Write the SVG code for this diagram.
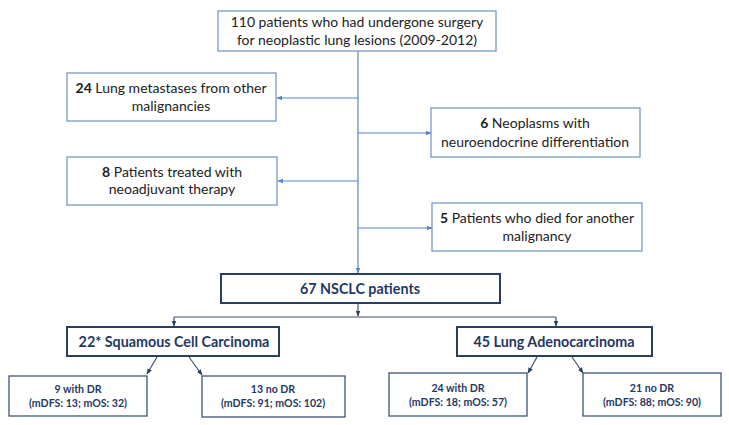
<svg xmlns="http://www.w3.org/2000/svg" width="729" height="425" viewBox="0 0 729 425">
<style>
.box{fill:#fff;stroke:#6e8fbf;stroke-width:1.2}
.bbox{fill:#fff;stroke:#2a3f5f;stroke-width:2}
.sbox{fill:#fff;stroke:#3d5475;stroke-width:1.3}
.t{font-family:Lato,"Liberation Sans",sans-serif;font-size:14px;fill:#222;text-anchor:middle}
.h{font-family:Lato,"Liberation Sans",sans-serif;font-size:14.3px;font-weight:bold;fill:#1f3864;text-anchor:middle}
.s{font-family:Lato,"Liberation Sans",sans-serif;font-size:10.6px;font-weight:bold;fill:#1f3864;text-anchor:middle}
.c{fill:none;stroke:#5b84c4;stroke-width:1.2}
.d{fill:none;stroke:#3d5475;stroke-width:1.2}
</style>
<defs>
<marker id="a" viewBox="0 0 10 10" refX="9" refY="5" markerWidth="5" markerHeight="5" orient="auto"><path d="M0,1 L10,5 L0,9 z" fill="#5b84c4"/></marker>
<marker id="b" viewBox="0 0 10 10" refX="9" refY="5" markerWidth="5" markerHeight="5" orient="auto"><path d="M0,1 L10,5 L0,9 z" fill="#2a3f5f"/></marker>
</defs>
<g id="connectors">
<path class="c" d="M358,51 V273" marker-end="url(#a)"/>
<path class="c" d="M358,98 H277" marker-end="url(#a)"/>
<path class="c" d="M358,133 H431" marker-end="url(#a)"/>
<path class="c" d="M358,181 H278" marker-end="url(#a)"/>
<path class="c" d="M358,228 H432" marker-end="url(#a)"/>
<path class="d" d="M358,303 V316" marker-end="url(#b)"/>
<path class="d" d="M174,317 H556"/>
<path class="d" d="M174,317 V326" marker-end="url(#b)"/>
<path class="d" d="M556,317 V326" marker-end="url(#b)"/>
<path class="d" d="M157,357 L147,374" marker-end="url(#b)"/>
<path class="d" d="M189,357 L202,375" marker-end="url(#b)"/>
<path class="d" d="M537,357 L528,373" marker-end="url(#b)"/>
<path class="d" d="M572,357 L583,373" marker-end="url(#b)"/>
</g>
<g id="n110">
<rect class="box" x="218" y="11" width="278" height="40"/>
<text class="t" x="357" y="27">110 patients who had undergone surgery</text>
<text class="t" x="357" y="45">for neoplastic lung lesions (2009-2012)</text>
</g>
<g id="n24">
<rect class="box" x="67" y="73" width="209" height="48"/>
<text class="t" x="171" y="93"><tspan font-weight="bold">24</tspan> Lung metastases from other</text>
<text class="t" x="171" y="111">malignancies</text>
</g>
<g id="n6">
<rect class="box" x="431" y="108" width="209" height="49"/>
<text class="t" x="535" y="128"><tspan font-weight="bold">6</tspan> Neoplasms with</text>
<text class="t" x="535" y="147">neuroendocrine differentiation</text>
</g>
<g id="n8">
<rect class="box" x="67" y="157" width="210" height="48"/>
<text class="t" x="172" y="177"><tspan font-weight="bold">8</tspan> Patients treated with</text>
<text class="t" x="172" y="194">neoadjuvant therapy</text>
</g>
<g id="n5">
<rect class="box" x="432" y="203" width="210" height="48"/>
<text class="t" x="537" y="223"><tspan font-weight="bold">5</tspan> Patients who died for another</text>
<text class="t" x="537" y="241">malignancy</text>
</g>
<g id="n67">
<rect class="bbox" x="221" y="274" width="279" height="29"/>
<text class="h" x="360" y="294">67 NSCLC patients</text>
</g>
<g id="n22">
<rect class="bbox" x="67" y="327" width="212" height="29"/>
<text class="h" x="174" y="347">22* Squamous Cell Carcinoma</text>
</g>
<g id="n45">
<rect class="bbox" x="457" y="327" width="195" height="29"/>
<text class="h" x="554" y="347">45 Lung Adenocarcinoma</text>
</g>
<g id="n9">
<rect class="sbox" x="9" y="376" width="138" height="40"/>
<text class="s" x="78" y="393">9 with DR</text>
<text class="s" x="78" y="407">(mDFS: 13; mOS: 32)</text>
</g>
<g id="n13">
<rect class="sbox" x="202" y="376" width="143" height="41"/>
<text class="s" x="273" y="393">13 no DR</text>
<text class="s" x="273" y="407">(mDFS: 91; mOS: 102)</text>
</g>
<g id="n24dr">
<rect class="sbox" x="389" y="373" width="138" height="43"/>
<text class="s" x="458" y="392">24 with DR</text>
<text class="s" x="458" y="406">(mDFS: 18; mOS: 57)</text>
</g>
<g id="n21">
<rect class="sbox" x="583" y="373" width="138" height="43"/>
<text class="s" x="652" y="392">21 no DR</text>
<text class="s" x="652" y="406">(mDFS: 88; mOS: 90)</text>
</g>
</svg>
